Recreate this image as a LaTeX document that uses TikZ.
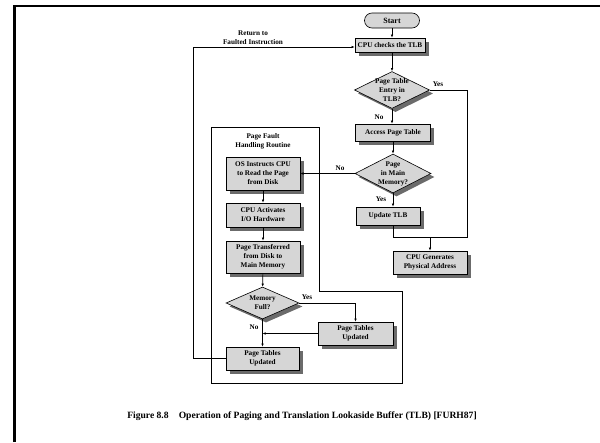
\documentclass[tikz,border=0pt]{standalone}
\usepackage{fontspec}
\setmainfont{Liberation Serif}
\usetikzlibrary{shapes.geometric, shapes.misc, arrows.meta, positioning, shadows}

\definecolor{boxgray}{gray}{0.84}
\definecolor{shadegray}{gray}{0.42}

\tikzset{
  >={Latex[length=3.2pt,width=2.6pt]},
  txt/.style={font=\fontsize{7.2}{9}\selectfont\bfseries, align=center},
  shade/.style={drop shadow={shadow xshift=3.5pt, shadow yshift=-3.5pt, fill=shadegray, opacity=1}},
  proc/.style={txt, draw, fill=boxgray, line width=0.6pt, inner sep=0pt, shade},
  decide/.style={txt, diamond, draw, fill=boxgray, line width=0.6pt, inner sep=-5pt, aspect=2, shade},
  term/.style={txt, rounded rectangle, draw, fill=boxgray, line width=0.6pt, inner sep=0pt},
  flow/.style={line width=0.6pt}
}

\begin{document}
\begin{tikzpicture}[x=1pt, y=-1pt]
  \useasboundingbox (0,0) rectangle (600,442);

  % Frame
  \draw[line width=2.6pt] (14.5,442) -- (14.5,6) -- (600,6);

  % Page fault region
  \draw[flow] (211,127) -- (319,127) -- (319,291) -- (402,291) -- (402,383) -- (211,383) -- cycle;
  \node[txt] (region) at (263,141) {Page Fault\\Handling Routine};

  % Main path
  \node[term, minimum width=55pt, minimum height=15pt] (start) at (392,20.5) {\fontsize{8}{9}\selectfont Start};
  \node[proc, minimum width=70pt, minimum height=14pt] (check) at (390,45) {CPU checks the TLB};
  \node[decide, minimum width=75pt, minimum height=37pt] (tlbq) at (392,90) {Page Table\\Entry in\\TLB?};
  \node[proc, minimum width=75pt, minimum height=17pt] (access) at (393,132.5) {Access Page Table};
  \node[decide, minimum width=76pt, minimum height=39pt] (memq) at (393,173.5) {Page\\in Main\\Memory?};
  \node[proc, minimum width=64pt, minimum height=18pt] (update) at (388,216) {Update TLB};
  \node[proc, minimum width=74pt, minimum height=23pt] (gen) at (430,262.5) {CPU Generates\\Physical Address};

  % Fault routine
  \node[proc, minimum width=74pt, minimum height=33pt] (osread) at (263,173.5) {OS Instructs CPU\\to Read the Page\\from Disk};
  \node[proc, minimum width=74pt, minimum height=24pt] (activ) at (263,215) {CPU Activates\\I/O Hardware};
  \node[proc, minimum width=74pt, minimum height=32pt] (transf) at (263,257) {Page Transferred\\from Disk to\\Main Memory};
  \node[decide, minimum width=73pt, minimum height=32pt] (fullq) at (262.5,303) {Memory\\Full?};
  \node[proc, minimum width=75pt, minimum height=23pt] (ptuB) at (355.5,333.5) {Page Tables\\Updated};
  \node[proc, minimum width=73pt, minimum height=23pt] (ptuA) at (262.5,358.5) {Page Tables\\Updated};

  % Helper points
  \coordinate (yescorner) at (467,237);
  \coordinate (retx) at (193,0);

  % Connectors
  \draw[flow, ->] (start.south) -- (start.south |- check.north);
  \draw[flow, ->] (tlbq.north |- check.south) -- (tlbq.north);
  \draw[flow, ->] (tlbq.south) -- (tlbq.south |- access.north);
  \draw[flow, ->] (memq.north |- access.south) -- (memq.north);
  \draw[flow, ->] (memq.west) -- (memq.west -| osread.east);
  \draw[flow, ->] (memq.south) -- (memq.south |- update.north);
  \draw[flow] (tlbq.east) -| (yescorner) -- (memq.south |- yescorner) -- (memq.south |- update.south);
  \draw[flow, ->] (gen.north |- yescorner) -- (gen.north);
  \draw[flow, ->] (osread) -- (activ);
  \draw[flow, ->] (activ) -- (transf);
  \draw[flow, ->] (transf) -- (fullq);
  \draw[flow, ->] (fullq.east) -| (ptuB.north);
  \draw[flow, ->] (fullq.south) -- (ptuA.north);
  \draw[flow, ->] (ptuB.west) -- (ptuB.west -| fullq.south);
  \draw[flow, ->] (ptuA.west) -- (ptuA.west -| retx) |- ([yshift=-2pt]check.west);

  % Labels
  \node[txt] (yesA) at (438,84) {Yes};
  \node[txt] (noA) at (379,117) {No};
  \node[txt] (noB) at (340,168) {No};
  \node[txt] (yesB) at (381,199) {Yes};
  \node[txt] (yesC) at (307,297) {Yes};
  \node[txt] (noC) at (254,327) {No};
  \node[txt] (ret) at (253,38) {Return to\\Faulted Instruction};

  % Caption
  \node[font=\fontsize{9.6}{11}\selectfont\bfseries] (caption) at (302,416) {Figure 8.8\hspace{0.8em} Operation of Paging and Translation Lookaside Buffer (TLB) [FURH87]};
\end{tikzpicture}
\end{document}
